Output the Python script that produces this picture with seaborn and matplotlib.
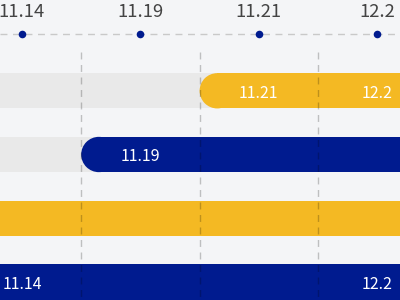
import matplotlib
matplotlib.use("Agg")
import matplotlib.pyplot as plt
import seaborn as sns
import pandas as pd
from matplotlib.patches import Ellipse

# ---- data ----
dates = ["11.14", "11.19", "11.21", "12.2"]
task_rows = [0, 1, 2, 3]
task_start = [1.5, 0.5, -1.5, -1.5]   # in date-column units (column boundaries)
task_end = [4.5, 4.5, 4.5, 4.5]
task_colors = ["yellow", "navy", "yellow", "navy"]
task_labels = [["11.21", "12.2"], ["11.19"], [], ["11.14", "12.2"]]

# ---- style ----
BG = "#f4f5f7"
TRACK = "#e9e9e9"
PALETTE = {"yellow": "#f4b923", "navy": "#001b8f"}
DOT = "#001b8f"

sns.set_theme(style="white")
plt.rcParams["font.family"] = ["Noto Sans CJK SC", "DejaVu Sans"]

fig = plt.figure(figsize=(4, 3), dpi=100, facecolor=BG)
ax = fig.add_axes([0, 0, 1, 1])
ax.set_facecolor(BG)

col_px = 118.4
row_px = 63.7
xlim = (-22 / col_px, (400 - 22) / col_px)
ylim = ((300 - 90.8) / row_px, -90.8 / row_px)
ax.set_xlim(*xlim)
ax.set_ylim(*ylim)

bar_h = 35.3 / row_px
rx = (35.3 / 2) / col_px

df = pd.DataFrame({"row": task_rows, "start": task_start, "end": task_end,
                   "color": task_colors})

# gray tracks
ax.barh(df["row"], [e - xlim[0] for e in df["end"]], left=xlim[0],
        height=bar_h, color=TRACK, zorder=1, linewidth=0)

# pill bars
for _, r in df.iterrows():
    c = PALETTE[r["color"]]
    ax.barh(r["row"], r["end"] - (r["start"] + rx), left=r["start"] + rx,
            height=bar_h, color=c, zorder=2, linewidth=0)
    ax.add_patch(Ellipse((r["start"] + rx, r["row"]), 2 * rx, bar_h,
                         facecolor=c, edgecolor="none", zorder=2))

# bar labels
for row, labs in zip(task_rows, task_labels):
    for lab in labs:
        ax.text(dates.index(lab), row + 0.108, lab, ha="center", va="baseline",
                color="white", fontsize=11.5, zorder=4)

# header
header_y = (34 - 90.8) / row_px
label_y = (16.7 - 90.8) / row_px
ax.axhline(header_y, color="#c9c9c9", lw=1, dashes=(5, 4), zorder=1)
sns.scatterplot(x=list(range(len(dates))), y=[header_y] * len(dates), ax=ax,
                color=DOT, s=30, linewidth=0, zorder=3, legend=False)
for i, d in enumerate(dates):
    ax.text(i, label_y, d, ha="center", va="baseline", color="#444444",
            fontsize=13.3, zorder=4)

# vertical dashed column separators
vtop = (52 - 90.8) / row_px
for i in range(len(dates) - 1):
    ax.plot([i + 0.5, i + 0.5], [vtop, ylim[0]], color="black", alpha=0.22,
            lw=1, dashes=(5, 4), zorder=3)

ax.axis("off")
fig.savefig("out.png", dpi=100, facecolor=BG)
